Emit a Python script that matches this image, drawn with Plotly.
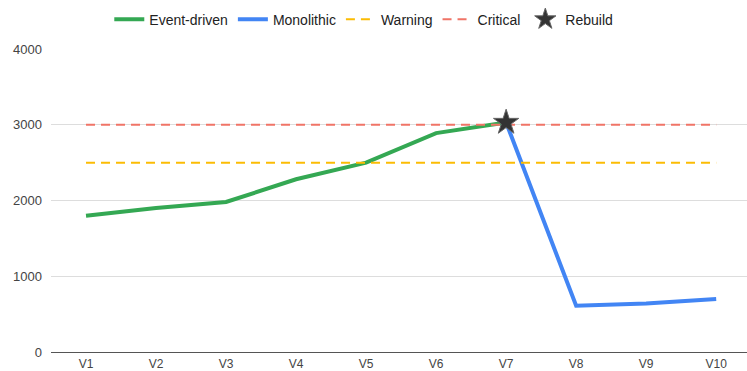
import plotly.graph_objects as go

versions = ["V1", "V2", "V3", "V4", "V5", "V6", "V7", "V8", "V9", "V10"]
event_driven = [1800, 1900, 1980, 2280, 2500, 2890, 3030, None, None, None]
monolithic = [None, None, None, None, None, None, 3030, 610, 640, 700]
warning = [2500] * 10
critical = [3000] * 10
rebuild_x = ["V7"]
rebuild_y = [3030]
y_ticks = [0, 1000, 2000, 3000, 4000]

font = "Liberation Sans, Arial, sans-serif"
fig = go.Figure()
fig.add_trace(go.Scatter(x=versions, y=event_driven, name="Event-driven", mode="lines",
                         line=dict(color="#34A853", width=4), connectgaps=False))
fig.add_trace(go.Scatter(x=versions, y=monolithic, name="Monolithic", mode="lines",
                         line=dict(color="#4285F4", width=4), connectgaps=False))
fig.add_trace(go.Scatter(x=versions, y=warning, name="Warning", mode="lines",
                         line=dict(color="#FBBC04", width=2, dash="9px,6px")))
fig.add_trace(go.Scatter(x=versions, y=critical, name="Critical", mode="lines",
                         line=dict(color="#F07467", width=2, dash="9px,6px")))
fig.add_trace(go.Scatter(x=rebuild_x, y=rebuild_y, name="Rebuild", mode="markers",
                         marker=dict(symbol="star", size=19, color="#333333",
                                     line=dict(color="#666666", width=1))))

fig.update_layout(
    width=747, height=371,
    margin=dict(l=51, r=0, t=49, b=19, autoexpand=False),
    paper_bgcolor="white", plot_bgcolor="white",
    font=dict(family=font, size=13, color="#444444"),
    legend=dict(orientation="h", x=0.487, xanchor="center", xref="container",
                y=0.99, yanchor="top", yref="container",
                font=dict(size=14, color="#222222"),
                itemwidth=30, traceorder="normal"),
    showlegend=True,
)
fig.update_xaxes(type="category", range=[-0.5, 9.44], showgrid=False, showline=False,
                 ticks="", tickfont=dict(size=12, color="#444444"), zeroline=False,
                 ticklabelstandoff=3, automargin=False)
fig.update_yaxes(range=[0, 4000], tickvals=y_ticks, showgrid=True, gridcolor="#DDDDDD",
                 gridwidth=1, zeroline=True, zerolinecolor="#555555", zerolinewidth=1,
                 ticks="", ticklabelstandoff=8, tickfont=dict(size=13, color="#444444"),
                 automargin=False)

fig.write_html("out.html", config={"displayModeBar": False},
               post_script="document.body.style.margin='0';document.body.style.overflow='hidden';")
